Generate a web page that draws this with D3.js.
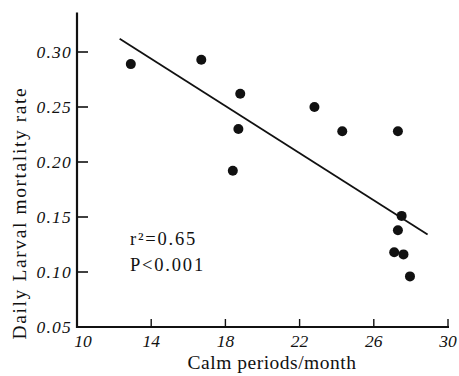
<!DOCTYPE html>
<html>
<head>
<meta charset="utf-8">
<script src="https://cdn.jsdelivr.net/npm/d3@7"></script>
<style>
  body { margin: 0; background: #fff; }
  svg { display: block; }
  text { font-family: "Liberation Serif", "Times New Roman", serif; fill: #111; }
</style>
</head>
<body>
<svg width="459" height="376"></svg>
<script>
// calm periods per month (x) and daily larval mortality rate (y)
const calmPeriods = [12.9, 16.7, 18.8, 18.7, 18.4, 22.8, 24.3, 27.3, 27.5, 27.3, 27.1, 27.6, 27.95];
const mortality = [0.289, 0.293, 0.262, 0.230, 0.192, 0.250, 0.228, 0.228, 0.151, 0.138, 0.118, 0.116, 0.096];
// fitted regression line end points
const fitX = [12.3, 28.9];
const fitY = [0.312, 0.134];
const xTicks = [10, 14, 18, 22, 26, 30];
const yTicks = [0.05, 0.10, 0.15, 0.20, 0.25, 0.30];

const svg = d3.select("svg"),
  plotLeft = 77, plotRight = 448, plotTop = 52, plotBottom = 327;

const x = d3.scaleLinear().domain([10, 30]).range([plotLeft, plotRight]);
const y = d3.scaleLinear().domain([0.05, 0.30]).range([plotBottom, plotTop]);

// axes drawn as plain lines, ticks pointing inward
const g = svg.append("g");

g.append("line")
  .attr("x1", plotLeft).attr("x2", plotLeft)
  .attr("y1", y(0.05) + 1).attr("y2", y(0.336))
  .attr("stroke", "#111").attr("stroke-width", 2.2);

g.append("line")
  .attr("x1", plotLeft - 1).attr("x2", x(30) + 1)
  .attr("y1", plotBottom).attr("y2", plotBottom)
  .attr("stroke", "#111").attr("stroke-width", 2.2);

g.selectAll(".ytick")
  .data(yTicks.slice(1))
  .enter()
  .append("line")
  .attr("x1", plotLeft).attr("x2", plotLeft + 11)
  .attr("y1", d => y(d)).attr("y2", d => y(d))
  .attr("stroke", "#111").attr("stroke-width", 1.6);

g.selectAll(".xtick")
  .data(xTicks.slice(1))
  .enter()
  .append("line")
  .attr("x1", d => x(d)).attr("x2", d => x(d))
  .attr("y1", plotBottom).attr("y2", plotBottom - 8)
  .attr("stroke", "#111").attr("stroke-width", 1.4);

g.selectAll(".ylab")
  .data(yTicks)
  .enter()
  .append("text")
  .attr("x", plotLeft - 5)
  .attr("y", d => y(d) + 6)
  .attr("text-anchor", "end")
  .attr("font-size", 17.5)
  .attr("font-style", "italic")
  .attr("letter-spacing", 1.2)
  .text(d => d3.format(".2f")(d));

g.selectAll(".xlab")
  .data(xTicks)
  .enter()
  .append("text")
  .attr("x", d => x(d) + (d === 10 ? 6 : 0))
  .attr("y", plotBottom + 20)
  .attr("text-anchor", "middle")
  .attr("font-size", 17.5)
  .attr("font-style", "italic")
  .text(d => d);

// axis titles
svg.append("text")
  .attr("x", 272)
  .attr("y", 369)
  .attr("text-anchor", "middle")
  .attr("font-size", 19.5)
  .attr("letter-spacing", 0.5)
  .text("Calm periods/month");

svg.append("text")
  .attr("transform", "translate(26," + 213 + ") rotate(-90)")
  .attr("text-anchor", "middle")
  .attr("font-size", 19.5)
  .attr("letter-spacing", 1.6)
  .text("Daily Larval mortality rate");

// regression line
const line = d3.line().x(d => x(d[0])).y(d => y(d[1]));
svg.append("path")
  .datum(d3.zip(fitX, fitY))
  .attr("d", line)
  .attr("fill", "none")
  .attr("stroke", "#111")
  .attr("stroke-width", 1.8);

// points
svg.selectAll(".dot")
  .data(d3.zip(calmPeriods, mortality))
  .enter()
  .append("circle")
  .attr("cx", d => x(d[0]))
  .attr("cy", d => y(d[1]))
  .attr("r", 5)
  .attr("fill", "#111");

// statistics
svg.append("text")
  .attr("x", 130).attr("y", 245)
  .attr("font-size", 18.5)
  .attr("letter-spacing", 1.8)
  .text("r\u00B2=0.65");

svg.append("text")
  .attr("x", 130).attr("y", 271)
  .attr("font-size", 18.5)
  .attr("letter-spacing", 1.8)
  .text("P<0.001");
</script>
</body>
</html>
